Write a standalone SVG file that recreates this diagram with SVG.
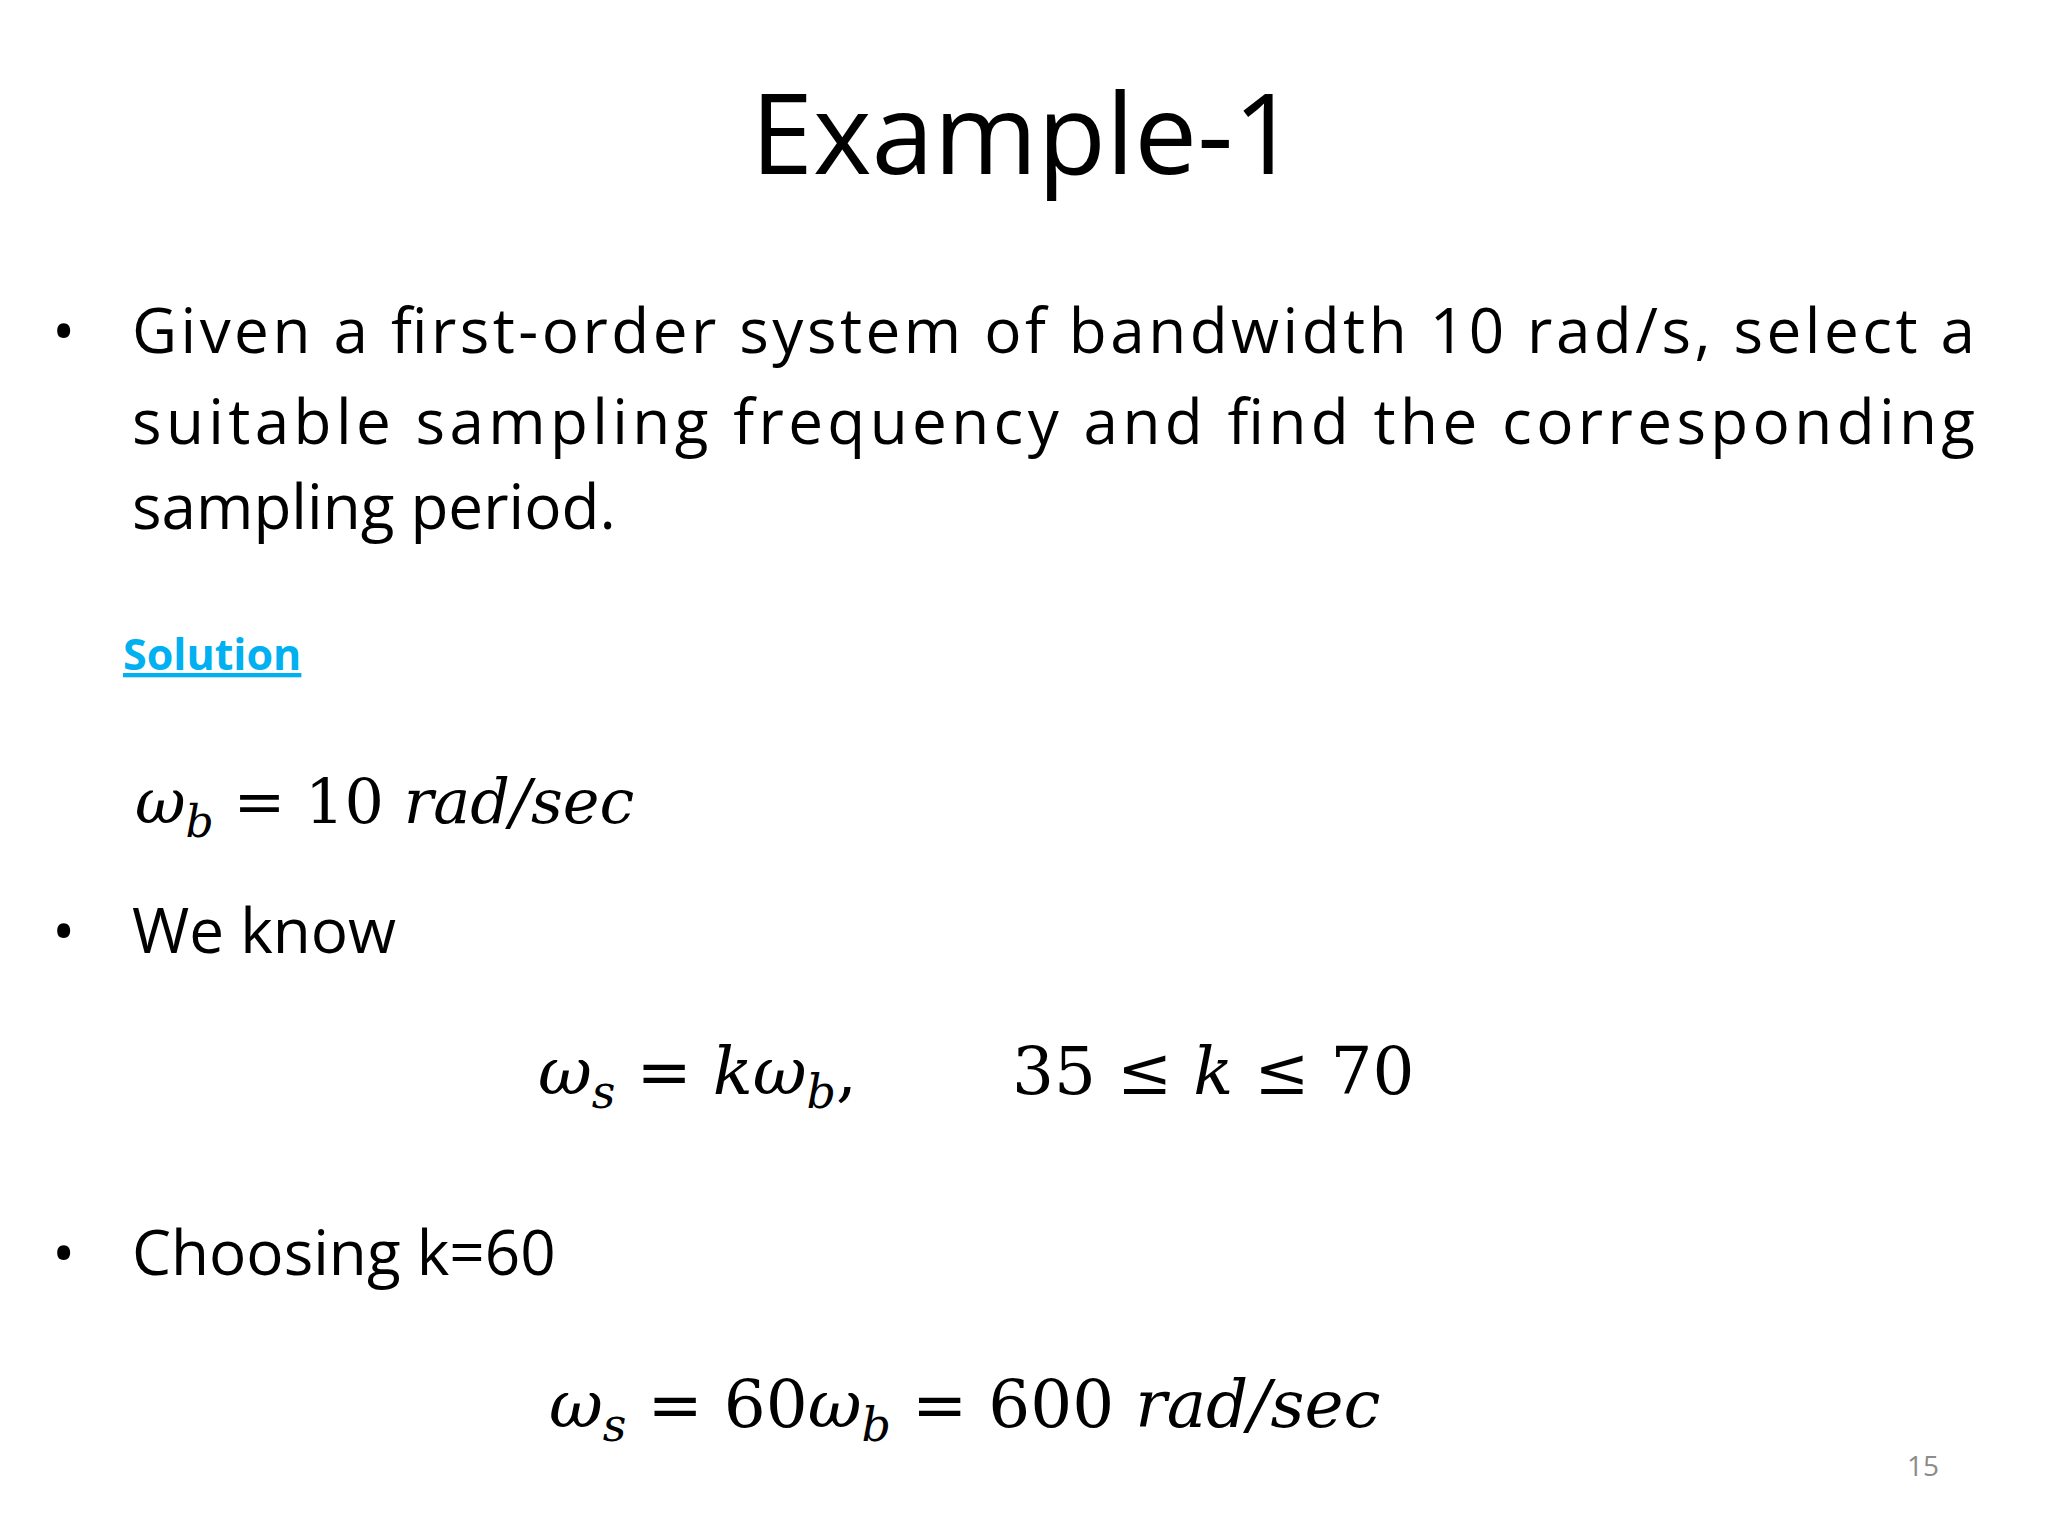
<svg xmlns="http://www.w3.org/2000/svg" width="2048" height="1536" viewBox="0 0 2048 1536">
<style>
.t{font-family:"Open Sans","Liberation Sans",sans-serif;fill:#000}
.m{font-family:"DejaVu Serif","Liberation Serif",serif;fill:#000}
.i{font-style:italic}
</style>
<rect width="2048" height="1536" fill="#fff"/>
<text class="t" x="1024" y="174" font-size="112" text-anchor="middle">Example-1</text>
<g class="t" font-size="62">
<text x="52" y="353">•</text>
<text x="132" y="353" textLength="1843" lengthAdjust="spacing">Given a first-order system of bandwidth 10 rad/s, select a</text>
<text x="132" y="444" textLength="1843" lengthAdjust="spacing">suitable sampling frequency and find the corresponding</text>
<text x="132" y="529">sampling period.</text>
<text x="52" y="953">•</text>
<text x="132" y="953">We know</text>
<text x="52" y="1275">•</text>
<text x="132" y="1275">Choosing k=60</text>
</g>
<text x="123" y="670" font-family="Open Sans,Liberation Sans,sans-serif" font-weight="bold" font-size="43" fill="#00b0f0" text-decoration="underline">Solution</text>
<text class="m" x="135" y="823" font-size="62"><tspan class="i">ω</tspan><tspan class="i" font-size="44" dy="14">b</tspan><tspan dy="-14"> = 10 </tspan><tspan class="i">rad/sec</tspan></text>
<text class="m" x="538" y="1094" font-size="66"><tspan class="i">ω</tspan><tspan class="i" font-size="46" dy="14">s</tspan><tspan dy="-14"> = </tspan><tspan class="i">kω</tspan><tspan class="i" font-size="46" dy="14">b</tspan><tspan dy="-14">,</tspan></text>
<text class="m" x="1012" y="1094" font-size="66">35 ≤ <tspan class="i">k</tspan> ≤ 70</text>
<text class="m" x="549" y="1427" font-size="66"><tspan class="i">ω</tspan><tspan class="i" font-size="46" dy="14">s</tspan><tspan dy="-14"> = 60</tspan><tspan class="i">ω</tspan><tspan class="i" font-size="46" dy="14">b</tspan><tspan dy="-14"> = 600 </tspan><tspan class="i">rad/sec</tspan></text>
<text x="1907" y="1476" font-family="Open Sans,Liberation Sans,sans-serif" font-size="28" fill="#8c8c8c">15</text>
</svg>
